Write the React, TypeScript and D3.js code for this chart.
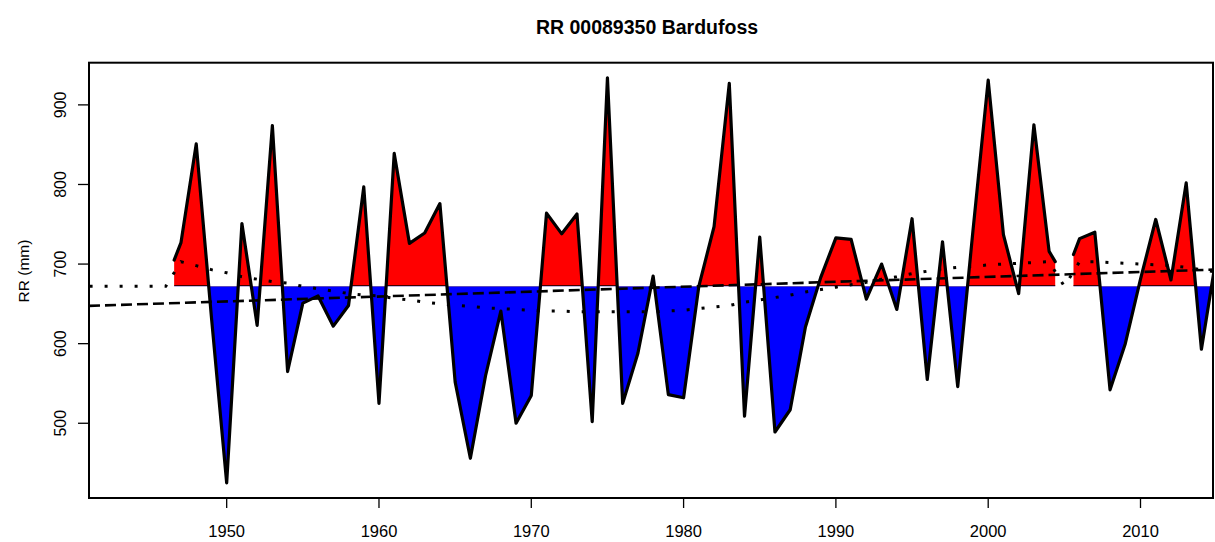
import React from 'react';
import * as d3 from 'd3';

const W = 1215;
const H = 542;

// Annual precipitation (mm); NaN marks the missing year
const years = [1946.55, 1947, 1948, 1949, 1950, 1951, 1952, 1953, 1954, 1955, 1956, 1957, 1958, 1959,
  1960, 1961, 1962, 1963, 1964, 1965, 1966, 1967, 1968, 1969, 1970, 1971, 1972, 1973, 1974, 1975,
  1976, 1977, 1978, 1979, 1980, 1981, 1982, 1983, 1984, 1985, 1986, 1987, 1988, 1989, 1990, 1991,
  1992, 1993, 1994, 1995, 1996, 1997, 1998, 1999, 2000, 2001, 2002, 2003, 2004, 2004.4, 2005, 2005.6,
  2006, 2007, 2008, 2009, 2010, 2011, 2012, 2013, 2014, 2015];
const rr = [705, 727, 851, 633, 425, 751, 623, 874, 565, 651, 660, 622, 648, 797,
  525, 839, 726, 739, 776, 552, 456, 560, 641, 500, 535, 764, 738, 763, 502, 934,
  525, 588, 685, 536, 532, 672, 747, 927, 509, 734, 489, 517, 621, 683, 733, 731,
  656, 700, 643, 757, 555, 728, 546, 742, 931, 737, 663, 875, 716, 703, NaN, 712,
  732, 740, 542, 600, 681, 756, 680, 802, 593, 712];

const MEAN = 672;

// Smoothed curve (dotted)
const smoothYears = d3.range(1941, 2016);
const smoothValues = [672, 672, 672, 672, 672, 672,
  703, 698, 693, 689, 684, 681, 678, 676, 672, 669, 666, 663, 661, 660,
  657, 655, 652, 650, 648, 647, 645, 644, 643, 642, 641, 641, 640, 640, 640,
  640, 640, 640, 641, 642, 644, 646, 648, 652, 655, 658, 661, 665, 668, 671,
  674, 677, 681, 684, 688, 691, 694, 696, 697, 699, 700, 701, 702, 703, 672,
  703, 703, 702, 701, 700, 699, 698, 696, 693, 690];

// Linear trend (dashed)
const trendYears = [1940.96, 2014.76];
const trendValues = [647.5, 693];

const xTicks = [1950, 1960, 1970, 1980, 1990, 2000, 2010];
const yTicks = [500, 600, 700, 800, 900];

const TITLE = 'RR 00089350 Bardufoss';
const YLABEL = 'RR (mm)';

const FONT = '"Liberation Sans", Arial, sans-serif';

export default function App() {
  const left = 89, right = 1213, top = 62.7, bottom = 498;
  const x = d3.scaleLinear().domain([1940.96, 2014.76]).range([left, right]);
  const y = d3.scaleLinear().domain([406.1, 953]).range([bottom, top]);

  const pts = years.map((yr, i) => ({ yr, v: rr[i] }));
  const defined = (d: any) => !isNaN(d.v);
  const area = d3.area<any>().defined(defined).x(d => x(d.yr)).y0(y(MEAN)).y1(d => y(d.v));
  const line = d3.line<any>().defined(defined).x(d => x(d.yr)).y(d => y(d.v));
  const areaD = area(pts) || '';
  const lineD = line(pts) || '';

  const smoothD = d3.line<number>().x((_, i) => x(smoothYears[i])).y(d => y(d))(smoothValues) || '';
  const trendD = d3.line<number>().x((_, i) => x(trendYears[i])).y(d => y(d))(trendValues) || '';

  const yMean = y(MEAN);
  const firstYr = years[0];
  const lastYr = years[years.length - 1];

  return (
    <svg width={W} height={H} style={{ position: 'absolute', left: 0, top: 0, background: '#fff' }}>
      <defs>
        <clipPath id="plot"><rect x={left} y={top} width={right - left} height={bottom - top} /></clipPath>
        <clipPath id="above"><rect x={left} y={top} width={right - left} height={yMean - top} /></clipPath>
        <clipPath id="below"><rect x={left} y={yMean} width={right - left} height={bottom - yMean} /></clipPath>
        <clipPath id="areaClip"><path d={areaD} /></clipPath>
      </defs>
      <rect x={0} y={0} width={W} height={H} fill="#fff" />
      <text x={647} y={34} textAnchor="middle" fontFamily={FONT} fontWeight="bold" fontSize={19.5}>{TITLE}</text>

      <g clipPath="url(#plot)">
        <g clipPath="url(#above)"><path d={areaD} fill="#ff0000" /></g>
        <g clipPath="url(#below)"><path d={areaD} fill="#0000ff" /></g>
        <g clipPath="url(#above)">
          <g clipPath="url(#areaClip)">
            <line x1={x(firstYr)} x2={x(lastYr)} y1={yMean} y2={yMean} stroke="#000" strokeWidth={2} />
          </g>
        </g>
        <path d={lineD} fill="none" stroke="#000" strokeWidth={3.2} strokeLinejoin="round" strokeLinecap="round" />
        <path d={trendD} fill="none" stroke="#000" strokeWidth={2.6} strokeDasharray="11 5" />
        <path d={smoothD} fill="none" stroke="#000" strokeWidth={3} strokeDasharray="3 12" />
      </g>

      <rect x={left} y={top} width={right - left} height={bottom - top} fill="none" stroke="#000" strokeWidth={2} />

      {xTicks.map(t => (
        <g key={t}>
          <line x1={x(t)} x2={x(t)} y1={bottom} y2={bottom + 10} stroke="#000" strokeWidth={1.3} />
          <text x={x(t)} y={537} textAnchor="middle" fontFamily={FONT} fontSize={16.5}>{t}</text>
        </g>
      ))}
      {yTicks.map(t => (
        <g key={t}>
          <line x1={left - 11} x2={left} y1={y(t)} y2={y(t)} stroke="#000" strokeWidth={1.3} />
          <text transform={`translate(66,${y(t)}) rotate(-90)`} textAnchor="middle" fontFamily={FONT} fontSize={16}>{t}</text>
        </g>
      ))}
      <text transform={`translate(29,271) rotate(-90)`} textAnchor="middle" fontFamily={FONT} fontSize={15.5}>{YLABEL}</text>
    </svg>
  );
}
